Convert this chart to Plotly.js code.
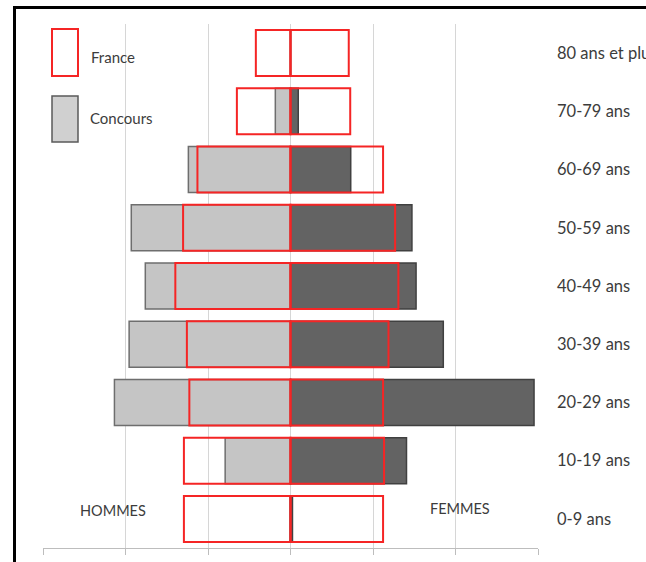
<!DOCTYPE html>
<html>
<head>
<meta charset="utf-8">
<script src="https://cdn.plot.ly/plotly-3.0.1.min.js"></script>
<style>
  html, body { margin: 0; padding: 0; background: #fff; overflow: hidden; }
  #wrap { position: relative; width: 646px; height: 562px; overflow: hidden; }
  #chart { position: absolute; left: 0; top: 0; width: 646px; height: 562px; }
  #frame { position: absolute; left: 13px; top: 6px; width: 800px; height: 800px;
           border-left: 3px solid #000; border-top: 3px solid #000; box-sizing: border-box; pointer-events: none; }
</style>
</head>
<body>
<div id="wrap"><div id="chart"></div><div id="frame"></div></div>
<script>
// Age groups (bottom to top)
const categories = ["0-9 ans", "10-19 ans", "20-29 ans", "30-39 ans", "40-49 ans", "50-59 ans", "60-69 ans", "70-79 ans", "80 ans et plus"];
// Share of population (%) — men shown on the left (negative), women on the right
const concoursHommes = [-0.03, -3.96, -10.67, -9.78, -8.80, -9.65, -6.19, -0.92, 0];
const concoursFemmes = [0.12, 7.03, 14.76, 9.26, 7.61, 7.36, 3.65, 0.47, 0];
const franceHommes = [-6.46, -6.46, -6.13, -6.28, -6.98, -6.51, -5.64, -3.25, -2.10];
const franceFemmes = [5.61, 5.67, 5.61, 5.94, 6.54, 6.34, 5.61, 3.62, 3.53];
const legendLabels = ["France", "Concours"];
const sideLabels = ["HOMMES", "FEMMES"];

const FONT = "Lato, 'Open Sans', sans-serif";
const TXT = "#3c3c3c";
const RED = "#f52525";
const BW = 0.79;

const traces = [
  { type: "bar", orientation: "h", y: categories, x: concoursHommes, width: BW,
    marker: { color: "#c5c5c5", line: { color: "#6e6e6e", width: 1.5 } }, hoverinfo: "skip", showlegend: false },
  { type: "bar", orientation: "h", y: categories, x: concoursFemmes, width: BW,
    marker: { color: "#636363", line: { color: "#404040", width: 1.5 } }, hoverinfo: "skip", showlegend: false },
  { type: "bar", orientation: "h", y: categories, x: franceHommes, width: BW,
    marker: { color: "rgba(0,0,0,0)", line: { color: RED, width: 2 } }, hoverinfo: "skip", showlegend: false },
  { type: "bar", orientation: "h", y: categories, x: franceFemmes, width: BW,
    marker: { color: "rgba(0,0,0,0)", line: { color: RED, width: 2 } }, hoverinfo: "skip", showlegend: false }
];

// paper coordinates helpers for decoration (legend boxes / labels)
const L = 43, R = 538, T = 24, B = 548;
const px = v => (v - L) / (R - L);
const py = v => (B - v) / (B - T);

const layout = {
  width: 646, height: 562,
  margin: { l: L, r: 646 - R, t: T, b: 562 - B, pad: 0 },
  paper_bgcolor: "#fff", plot_bgcolor: "#fff",
  barmode: "overlay",
  showlegend: false,
  font: { family: FONT, color: TXT, size: 15 },
  xaxis: {
    range: [-15, 15], dtick: 5, tick0: 0, showticklabels: false,
    showgrid: true, gridcolor: "#d6d6d6", gridwidth: 1,
    zeroline: false, showline: true, linecolor: "#bdbdbd", linewidth: 1,
    ticks: "outside", ticklen: 6, tickcolor: "#bdbdbd", fixedrange: true
  },
  yaxis: {
    type: "category", categoryarray: categories, range: [-0.5, 8.5],
    side: "right", showgrid: false, zeroline: false, showline: false, ticks: "",
    ticklabelstandoff: 18, tickfont: { family: FONT, size: 16.5, color: TXT }, fixedrange: true
  },
  yaxis2: {
    overlaying: "y", anchor: "free", position: 0.5, side: "left",
    range: [-0.5, 8.5], tickmode: "array", tickvals: [-0.5,0.5,1.5,2.5,3.5,4.5,5.5,6.5,7.5,8.5],
    showticklabels: false, showgrid: false, zeroline: false, showline: false,
    ticks: "outside", ticklen: 4, tickcolor: "#bdbdbd", fixedrange: true
  },
  shapes: [
    { type: "rect", xref: "paper", yref: "paper", x0: px(52), x1: px(78), y0: py(76), y1: py(29),
      line: { color: RED, width: 2 }, fillcolor: "rgba(0,0,0,0)", layer: "above" },
    { type: "rect", xref: "paper", yref: "paper", x0: px(52), x1: px(78), y0: py(142), y1: py(96),
      line: { color: "#5a5a5a", width: 1.5 }, fillcolor: "#d0d0d0", layer: "above" }
  ],
  annotations: [
    { xref: "paper", yref: "paper", x: px(89), y: py(57), xanchor: "left", yanchor: "middle",
      text: legendLabels[0], showarrow: false, font: { family: FONT, size: 15, color: TXT } },
    { xref: "paper", yref: "paper", x: px(88), y: py(118), xanchor: "left", yanchor: "middle",
      text: legendLabels[1], showarrow: false, font: { family: FONT, size: 15, color: TXT } },
    { xref: "paper", yref: "paper", x: px(113), y: py(510), xanchor: "center", yanchor: "middle",
      text: sideLabels[0], showarrow: false, font: { family: FONT, size: 14.5, color: TXT } },
    { xref: "paper", yref: "paper", x: px(460), y: py(508), xanchor: "center", yanchor: "middle",
      text: sideLabels[1], showarrow: false, font: { family: FONT, size: 14.5, color: TXT } }
  ]
};

Plotly.newPlot("chart", traces, layout, { displayModeBar: false, staticPlot: true });
</script>
</body>
</html>
